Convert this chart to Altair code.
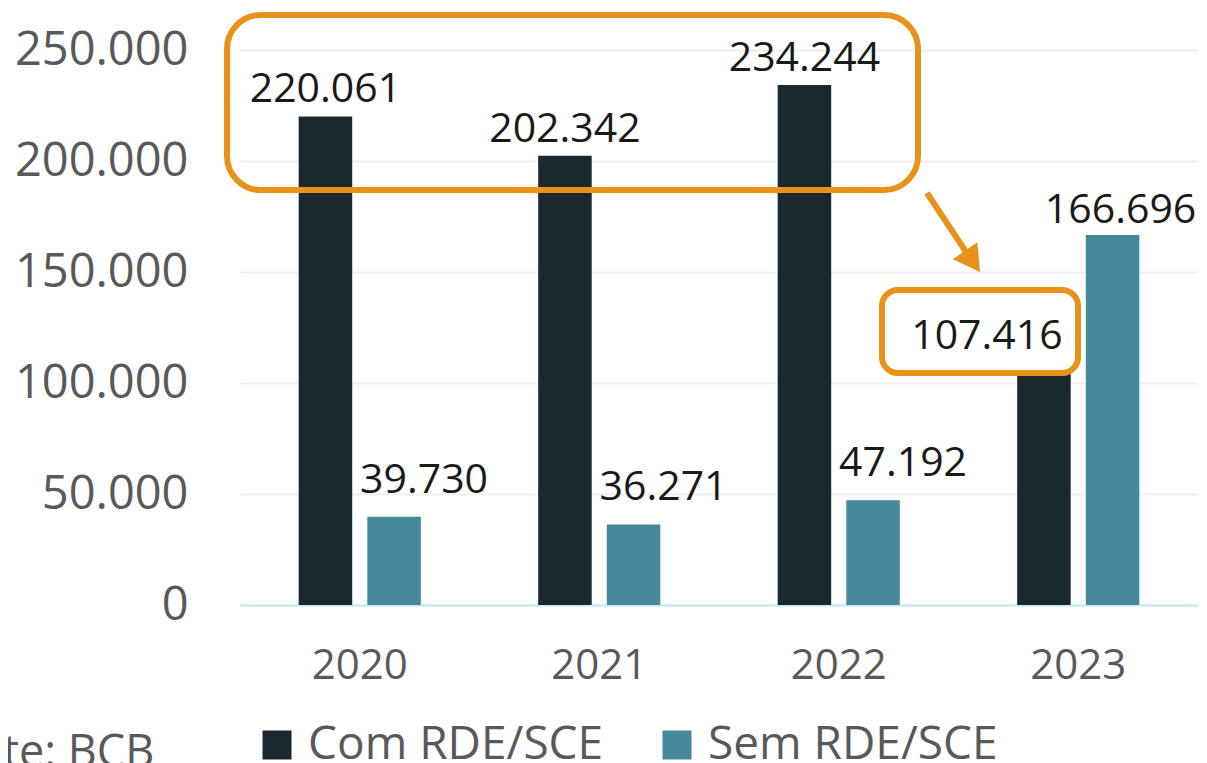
import altair as alt
import pandas as pd

years = ["2020", "2021", "2022", "2023"]
series_names = ["Com RDE/SCE", "Sem RDE/SCE"]
com_values = [220061, 202342, 234244, 107416]
sem_values = [39730, 36271, 47192, 166696]
y_ticks = [0, 50000, 100000, 150000, 200000, 250000]
source_text = ["Fonte: BCB"]

rows = []
for i, y in enumerate(years):
    rows.append({"year": y, "series": series_names[0], "value": com_values[i]})
    rows.append({"year": y, "series": series_names[1], "value": sem_values[i]})
df = pd.DataFrame(rows)

FONT = "Open Sans"
GREY = "#595959"
ORANGE = "#E8921A"
DARK = "#1A2830"
TEAL = "#45899A"

xscale = alt.Scale(paddingInner=0.49, paddingOuter=0.245)
xoscale = alt.Scale(domain=series_names, paddingInner=0.22, paddingOuter=0)
yscale = alt.Scale(domain=[0, 250000], nice=False)

x_axis = alt.Axis(labelAngle=0, labelFontSize=42, labelColor=GREY, labelFont=FONT,
                  ticks=False, domainColor="#C0ECF8", domainWidth=2,
                  labelPadding=40, grid=False, title=None)
y_axis = alt.Axis(values=y_ticks,
                  labelExpr="replace(format(datum.value, ','), ',', '.')",
                  labelFontSize=47, labelColor=GREY, labelFont=FONT,
                  ticks=False, domain=False, gridColor="#EFEFEF", gridWidth=2,
                  labelPadding=52, title=None)

bars = alt.Chart(df).mark_bar().encode(
    x=alt.X("year:N", sort=years, scale=xscale, title=None, axis=x_axis),
    xOffset=alt.XOffset("series:N", scale=xoscale, sort=series_names),
    y=alt.Y("value:Q", scale=yscale, title=None, axis=y_axis),
    color=alt.Color("series:N", sort=series_names,
                    scale=alt.Scale(domain=series_names, range=[DARK, TEAL]),
                    legend=alt.Legend(title=None, orient="none", legendX=14, legendY=672,
                                      direction="horizontal", symbolType="square",
                                      symbolSize=841, symbolStrokeWidth=0, padding=0,
                                      labelFontSize=46, labelFont=FONT, labelColor=GREY,
                                      labelOffset=8, columnPadding=50, labelLimit=500)),
)


def label_layer(flt, dx, dy):
    return alt.Chart(df).transform_calculate(
        label="replace(format(datum.value, ','), ',', '.')"
    ).transform_filter(flt).mark_text(
        font=FONT, fontSize=41, color="#1A1A1A", baseline="alphabetic", dx=dx, dy=dy
    ).encode(
        x=alt.X("year:N", sort=years, scale=xscale, title=None, axis=x_axis),
        xOffset=alt.XOffset("series:N", scale=xoscale, sort=series_names),
        y=alt.Y("value:Q", scale=yscale, title=None, axis=y_axis),
        text="label:N",
    )


dummy = pd.DataFrame({"k": [0]})

big_box = alt.Chart(dummy).mark_rect(
    fillOpacity=0, stroke=ORANGE, strokeWidth=6, cornerRadius=34
).encode(x=alt.value(-13), x2=alt.value(678), y=alt.value(-35), y2=alt.value(140))

small_box = alt.Chart(dummy).mark_rect(
    fill="white", stroke=ORANGE, strokeWidth=6, cornerRadius=16
).encode(x=alt.value(642), x2=alt.value(838), y=alt.value(240), y2=alt.value(323))

arrow_line = alt.Chart(dummy).mark_rule(color=ORANGE, strokeWidth=6).encode(
    x=alt.value(687), y=alt.value(143), x2=alt.value(728), y2=alt.value(205))

arrow_head = alt.Chart(dummy).mark_point(
    shape="triangle-down", filled=True, fill=ORANGE, color=ORANGE, opacity=1,
    size=900, angle=325, strokeWidth=0
).encode(x=alt.value(732.5), y=alt.value(211.4))

fonte = alt.Chart(pd.DataFrame({"t": source_text})).mark_text(
    font=FONT, fontSize=45, color=GREY, align="left", baseline="alphabetic"
).encode(x=alt.value(-315), y=alt.value(717), text="t:N")

chart = alt.layer(
    bars,
    big_box,
    small_box,
    arrow_line,
    arrow_head,
    label_layer("datum.series == 'Com RDE/SCE' && datum.year != '2023'", 0, -14),
    label_layer("datum.series == 'Com RDE/SCE' && datum.year == '2023'", -57, -18),
    label_layer("datum.series == 'Sem RDE/SCE' && datum.year != '2023'", 30, -24),
    label_layer("datum.series == 'Sem RDE/SCE' && datum.year == '2023'", 8, -12),
    fonte,
).properties(
    width=958, height=555,
    autosize=alt.AutoSizeParams(type="none"),
    padding={"left": 232, "top": 42, "right": 0, "bottom": 158},
).configure(font=FONT).configure_view(stroke=None)

chart.save("out.html", embed_options={"renderer": "svg", "actions": False})
